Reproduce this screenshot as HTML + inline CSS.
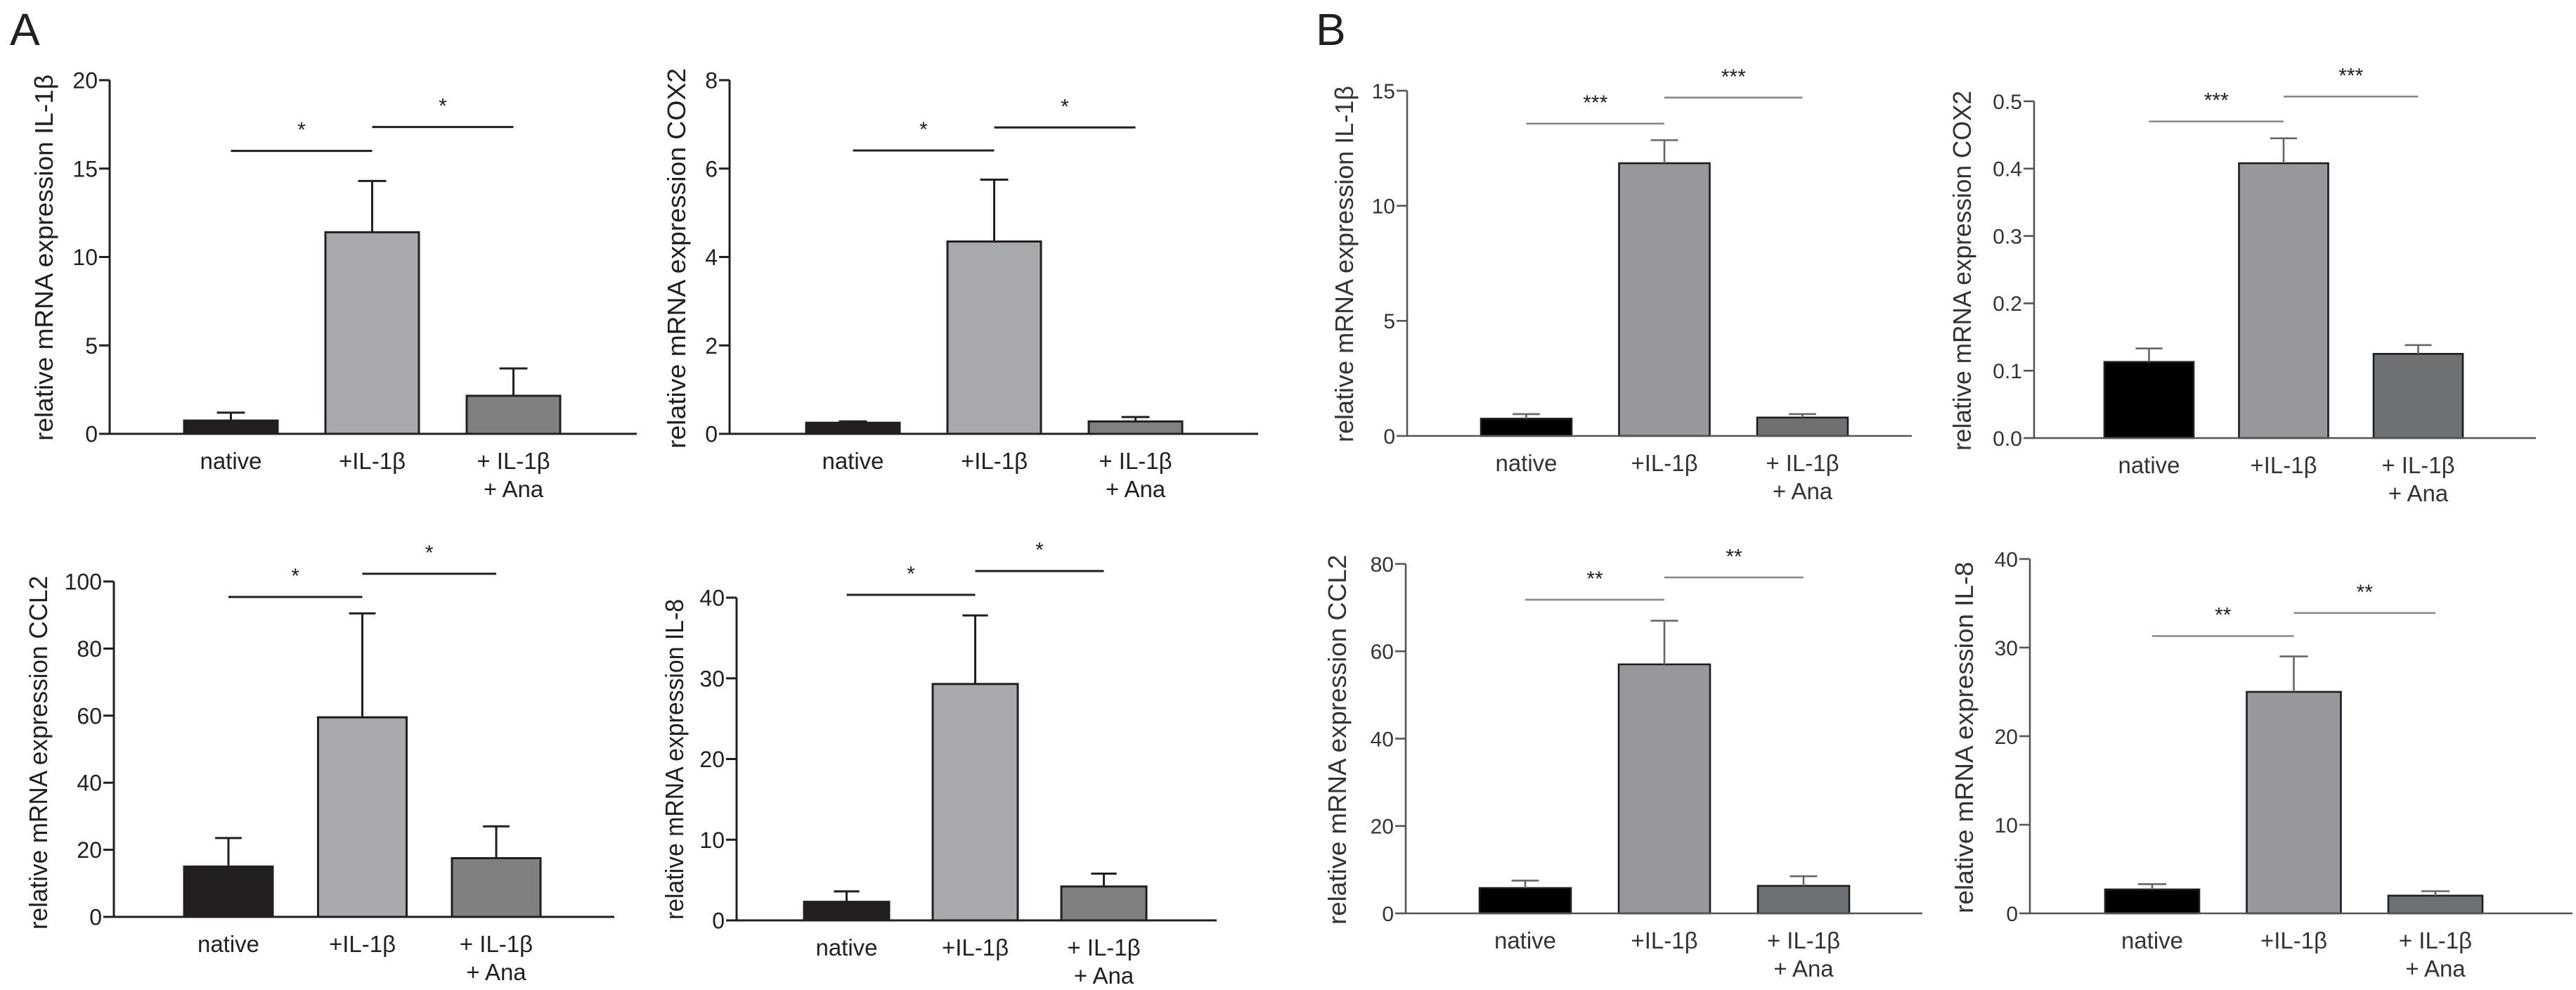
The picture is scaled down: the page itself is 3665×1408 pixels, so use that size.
<!DOCTYPE html>
<html><head><meta charset="utf-8">
<style>
html,body{margin:0;padding:0;background:#fff;}
svg{display:block;}
text{font-family:"Liberation Sans Narrow","Liberation Sans",sans-serif;}
</style></head>
<body>
<svg id="fig" width="3665" height="1408" viewBox="0 0 3665 1408" xmlns="http://www.w3.org/2000/svg">
<text x="14" y="64" font-size="64" fill="#231f20" style="font-family:'Liberation Sans',sans-serif">A</text>
<text x="1872" y="64" font-size="64" fill="#231f20" style="font-family:'Liberation Sans',sans-serif">B</text>
</svg>
<script>
const categories = ["native", "+IL-1β", "+ IL-1β|+ Ana"];
const a1Means = [0.75, 11.4, 2.15];   const a1Errors = [1.2, 14.3, 3.7];   const a1Ticks = [0,5,10,15,20];
const a2Means = [0.25, 4.35, 0.28];   const a2Errors = [0.28, 5.75, 0.38]; const a2Ticks = [0,2,4,6,8];
const a3Means = [15, 59.5, 17.5];     const a3Errors = [23.5, 90.5, 27];   const a3Ticks = [0,20,40,60,80,100];
const a4Means = [2.3, 29.3, 4.2];     const a4Errors = [3.6, 37.8, 5.8];   const a4Ticks = [0,10,20,30,40];
const b1Means = [0.75, 11.85, 0.8];   const b1Errors = [0.95, 12.85, 0.95]; const b1Ticks = [0,5,10,15];
const b2Means = [0.113, 0.408, 0.125]; const b2Errors = [0.133, 0.445, 0.138]; const b2Ticks = ["0.0","0.1","0.2","0.3","0.4","0.5"];
const b3Means = [5.8, 57, 6.3];       const b3Errors = [7.5, 67, 8.5];     const b3Ticks = [0,20,40,60,80];
const b4Means = [2.7, 25, 2.0];       const b4Errors = [3.3, 29, 2.5];     const b4Ticks = [0,10,20,30,40];
const a1Sig = [16.0, 17.35]; const a2Sig = [6.41, 6.93]; const a3Sig = [95.4, 102.3]; const a4Sig = [40.35, 43.3];
const b1Sig = [13.57, 14.7]; const b2Sig = [0.47, 0.507]; const b3Sig = [71.8, 76.9]; const b4Sig = [31.3, 33.9];
const aStars = ["*", "*"]; const b12Stars = ["***", "***"]; const b34Stars = ["**", "**"];

const NS = "http://www.w3.org/2000/svg";
const svg = document.getElementById("fig");
function mk(tag, attrs, parent){
  const e = document.createElementNS(NS, tag);
  for (const k in attrs) e.setAttribute(k, attrs[k]);
  (parent||svg).appendChild(e);
  return e;
}
const styleA = {axis:"#231f20", sw:3, fills:["#231f20","#a7a9ac","#808080"], stroke:"#231f20", err:"#231f20", sig:"#231f20", text:"#231f20", tick:32};
const styleB = {axis:"#555555", sw:2.6, fills:["#000000","#96989b","#6d7173"], stroke:"#1e1e1e", err:"#666", sig:"#888888", text:"#333", tick:30};

const panels = [
 {id:"a1", means:a1Means, errs:a1Errors, ticks:a1Ticks, sig:a1Sig, stars:aStars, title:"relative mRNA expression IL-1β", st:styleA,
  ax:156, y0:617, y1:114, max:20, xEnd:906, left:262, pitch:201, bw:133, tx:63, tTop:106, tBot:627},
 {id:"a2", means:a2Means, errs:a2Errors, ticks:a2Ticks, sig:a2Sig, stars:aStars, title:"relative mRNA expression COX2", st:styleA,
  ax:1038, y0:617, y1:114, max:8, xEnd:1790, left:1147, pitch:201, bw:133, tx:963, tTop:97, tBot:638},
 {id:"a3", means:a3Means, errs:a3Errors, ticks:a3Ticks, sig:a3Sig, stars:aStars, title:"relative mRNA expression CCL2", st:styleA,
  ax:162, y0:1304, y1:827, max:100, xEnd:874, left:262, pitch:190.5, bw:126, tx:55, tTop:819, tBot:1322},
 {id:"a4", means:a4Means, errs:a4Errors, ticks:a4Ticks, sig:a4Sig, stars:aStars, title:"relative mRNA expression IL-8", st:styleA,
  ax:1048, y0:1309, y1:850, max:40, xEnd:1731, left:1144, pitch:183, bw:121, tx:960, tTop:852, tBot:1308},
 {id:"b1", means:b1Means, errs:b1Errors, ticks:b1Ticks, sig:b1Sig, stars:b12Stars, title:"relative mRNA expression IL-1β", st:styleB,
  ax:2002, y0:620, y1:129, max:15, xEnd:2720, left:2107, pitch:196.5, bw:129, tx:1913, tTop:122, tBot:629},
 {id:"b2", means:b2Means, errs:b2Errors, ticks:b2Ticks, sig:b2Sig, stars:b12Stars, title:"relative mRNA expression COX2", st:styleB,
  ax:2894, y0:623, y1:144, max:0.5, xEnd:3608, left:2994, pitch:191.5, bw:127, tx:2792, tTop:129, tBot:641},
 {id:"b3", means:b3Means, errs:b3Errors, ticks:b3Ticks, sig:b3Sig, stars:b34Stars, title:"relative mRNA expression CCL2", st:styleB,
  ax:2000, y0:1299, y1:802, max:80, xEnd:2735, left:2105, pitch:198, bw:130, tx:1903, tTop:789, tBot:1315},
 {id:"b4", means:b4Means, errs:b4Errors, ticks:b4Ticks, sig:b4Sig, stars:b34Stars, title:"relative mRNA expression IL-8", st:styleB,
  ax:2888, y0:1299, y1:795, max:40, xEnd:3660, left:2995, pitch:201.5, bw:134, tx:2795, tTop:799, tBot:1299}
];

panels.forEach(p => {
  const st = p.st;
  const g = mk("g", {});
  
  
  const y = v => p.y0 - (parseFloat(v) / p.max) * (p.y0 - p.y1);
  const xc = i => p.left + i * p.pitch + p.bw / 2;

  // bars
  p.means.forEach((m, i) => {
    const top = y(m);
    const r = mk("rect", {x: p.left + i*p.pitch, y: top, width: p.bw, height: p.y0 - top,
      fill: st.fills[i], stroke: st.stroke, "stroke-width": st.sw}, g);
    
    
    const ey = y(p.errs[i]);
    const e = mk("path", {d: `M${xc(i)},${top} V${ey} M${xc(i)-p.bw*0.15},${ey} H${xc(i)+p.bw*0.15}`,
      stroke: st.err, "stroke-width": st.sw, fill: "none"}, g);
    
    
  });

  // axes
  const axes = mk("path", {d: `M${p.ax},${p.y1} V${p.y0} H${p.xEnd}`, stroke: st.axis, "stroke-width": st.sw, fill: "none"}, g);
  
  
  p.ticks.forEach(t => {
    const ty = y(t);
    const tk = mk("line", {x1: p.ax - 15, x2: p.ax, y1: ty, y2: ty, stroke: st.axis, "stroke-width": st.sw}, g);
    
    
    const tl = mk("text", {x: p.ax - 17, y: ty + st.tick*0.36, "text-anchor": "end", "font-size": st.tick, fill: st.text}, g);
    tl.textContent = String(t);
    
    
  });

  // category labels
  categories.forEach((c, i) => {
    const lines = c.split("|");
    lines.forEach((ln, k) => {
      const t = mk("text", {x: xc(i), y: p.y0 + 50 + k*40, "text-anchor": "middle", "font-size": 33, fill: st.text}, g);
      t.textContent = ln;
      
      
    });
  });

  // y title
  const cy = (p.tTop + p.tBot) / 2;
  const tt = mk("text", {x: 0, y: 0, transform: `translate(${p.tx + 12},${cy}) rotate(-90)`, "text-anchor": "middle",
    "font-size": 36, fill: st.text, textLength: p.tBot - p.tTop, lengthAdjust: "spacingAndGlyphs"}, g);
  tt.textContent = p.title;
  
  

  // significance brackets
  p.sig.forEach((s, k) => {
    const sy = y(s);
    const x1 = xc(k), x2 = xc(k+1);
    const l = mk("line", {x1: x1, x2: x2, y1: sy, y2: sy, stroke: st.sig, "stroke-width": st.sw}, g);
    
    
    const t = mk("text", {x: (x1+x2)/2, y: sy - 20, "text-anchor": "middle", "font-size": 30, fill: "#231f20"}, g);
    t.textContent = p.stars[k];
    
    
  });
});
</script>
</body></html>
